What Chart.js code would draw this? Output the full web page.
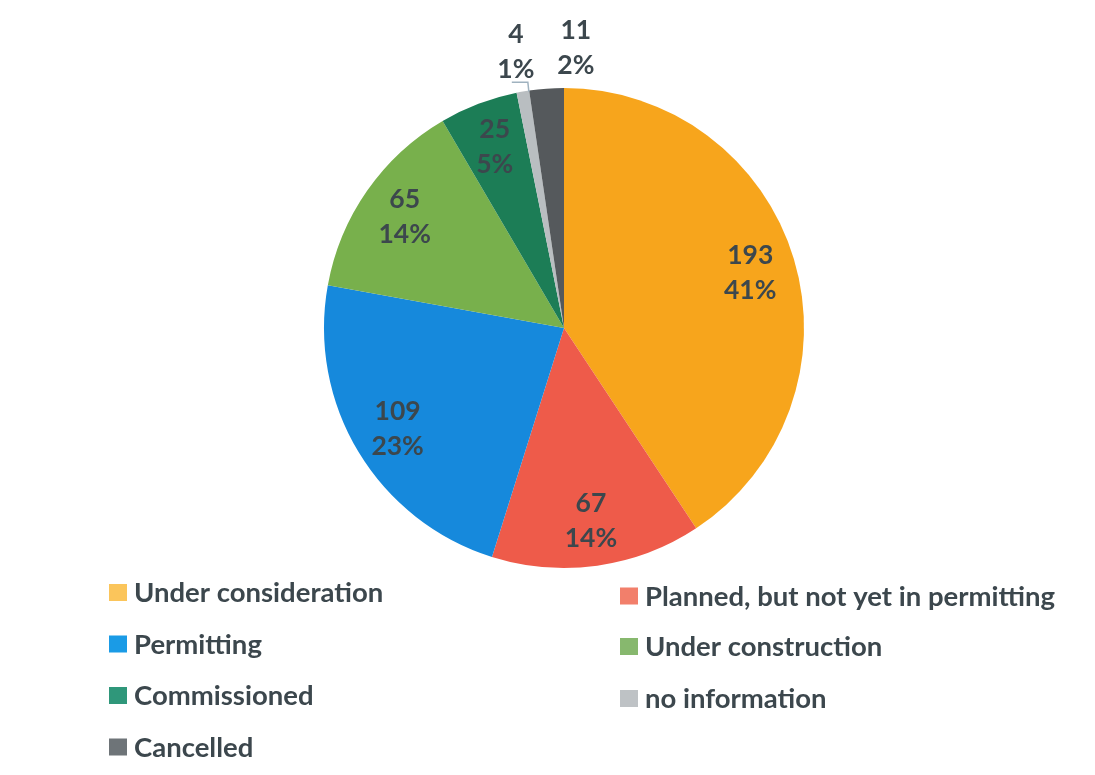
<!DOCTYPE html>
<html>
<head>
<meta charset="utf-8">
<script src="https://cdn.jsdelivr.net/npm/chart.js@4.4.1/dist/chart.umd.min.js"></script>
<style>
html,body{margin:0;padding:0;background:#fff;}
#wrap{position:relative;width:1095px;height:775px;}
</style>
</head>
<body>
<div id="wrap"><canvas id="c" width="1095" height="775"></canvas></div>
<script>
const categories = ["Under consideration", "Planned, but not yet in permitting", "Permitting", "Under construction", "Commissioned", "no information", "Cancelled"];
const values = [193, 67, 109, 65, 25, 4, 11];
const sliceColors = ["#F7A51C", "#EE5B4A", "#1689DC", "#78B04C", "#1C7D56", "#B9BEC1", "#55595C"];
const legendColors = ["#FBC55B", "#F27F6B", "#1A9BE6", "#87B86E", "#2F977A", "#BEC2C5", "#6E7478"];

const TEXT = "#3c474d";
const FONT = "bold 26.5px Lato";
const LFONT = "bold 27.5px Lato";

const labelPlugin = {
  id: 'sliceLabels',
  afterDatasetsDraw(chart) {
    const ctx = chart.ctx;
    const meta = chart.getDatasetMeta(0);
    const data = chart.data.datasets[0].data;
    const total = data.reduce((a, b) => a + b, 0);
    ctx.save();
    ctx.font = FONT;
    ctx.fillStyle = TEXT;
    ctx.textAlign = 'center';
    ctx.textBaseline = 'middle';
    let lastOutsideX = null;
    meta.data.forEach((arc, i) => {
      const p = arc.getProps(['x', 'y', 'startAngle', 'endAngle', 'outerRadius'], true);
      const mid = (p.startAngle + p.endAngle) / 2;
      const frac = data[i] / total;
      const pct = Math.round(frac * 100) + '%';
      let lx, ly;
      if (frac < 0.03) {
        const rr = p.outerRadius + 41;
        lx = p.x + Math.cos(mid) * rr;
        ly = p.y + Math.sin(mid) * rr;
        if (lastOutsideX !== null && lx - lastOutsideX < 60) lx = lastOutsideX + 60;
        if (lastOutsideX === null) {
          const ax = p.x + Math.cos(mid) * p.outerRadius;
          const ay = p.y + Math.sin(mid) * p.outerRadius;
          ctx.save();
          ctx.strokeStyle = '#9fb2bf';
          ctx.lineWidth = 1.5;
          ctx.beginPath();
          ctx.moveTo(lx - 4, ly + 31);
          ctx.lineTo(ax + 5, ly + 31);
          ctx.lineTo(ax + 6, ay);
          ctx.stroke();
          ctx.restore();
        }
        lastOutsideX = lx;
      } else {
        const rr = p.outerRadius * 0.81;
        lx = p.x + Math.cos(mid) * rr;
        ly = p.y + Math.sin(mid) * rr;
      }
      ctx.fillText(String(data[i]), lx, ly - 17);
      ctx.fillText(pct, lx, ly + 18);
    });
    ctx.restore();
  }
};

const legendPlugin = {
  id: 'twoColLegend',
  afterDraw(chart) {
    const ctx = chart.ctx;
    const labels = chart.data.labels;
    const colX = [109, 620];
    const rowY = [[592.5, 644, 695.5, 747], [596, 646.5, 698.5]];
    ctx.save();
    ctx.font = LFONT;
    ctx.textBaseline = 'middle';
    ctx.textAlign = 'left';
    labels.forEach((lab, i) => {
      const col = i % 2;
      const row = Math.floor(i / 2);
      const x = colX[col];
      const y = rowY[col][row];
      ctx.fillStyle = legendColors[i];
      ctx.fillRect(x, y - 8.5, 18, 17);
      ctx.fillStyle = TEXT;
      ctx.fillText(lab, x + 25, y + 1);
    });
    ctx.restore();
  }
};

new Chart(document.getElementById('c'), {
  type: 'pie',
  data: {
    labels: categories,
    datasets: [{
      data: values,
      backgroundColor: sliceColors,
      borderWidth: 0
    }]
  },
  options: {
    responsive: false,
    animation: false,
    layout: { padding: { left: 324, right: 291, top: 88, bottom: 207 } },
    plugins: {
      legend: { display: false },
      tooltip: { enabled: false }
    }
  },
  plugins: [labelPlugin, legendPlugin]
});
</script>
</body>
</html>
